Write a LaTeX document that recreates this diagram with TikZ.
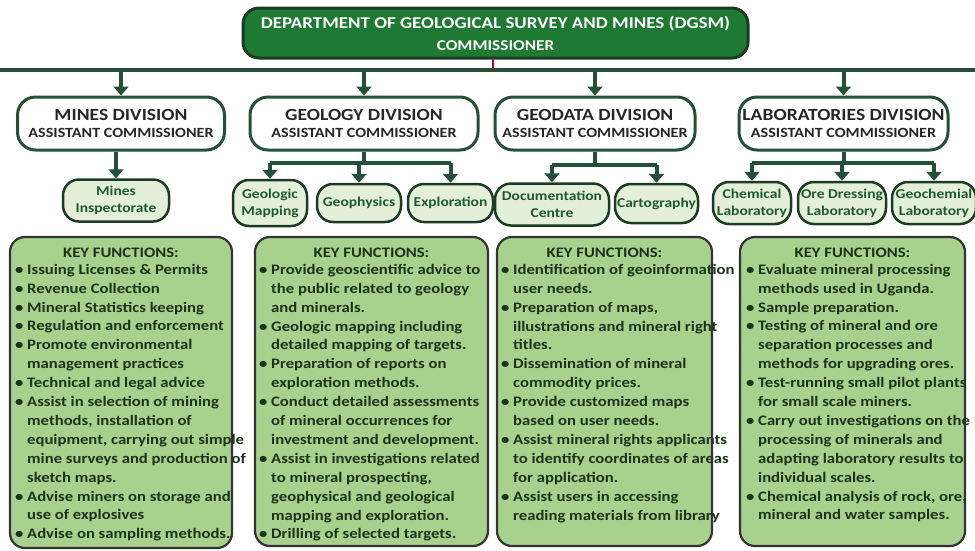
\documentclass[tikz,border=0pt]{standalone}
\usepackage{fontspec}
\setmainfont{Carlito}[FakeStretch=1.15]
\usetikzlibrary{arrows.meta}

\definecolor{dgreen}{HTML}{1E7A32}
\definecolor{edgec}{HTML}{1C3A24}
\definecolor{connc}{HTML}{24503A}
\definecolor{subfill}{HTML}{E3EFD8}
\definecolor{keyfill}{HTML}{A9D18E}
\definecolor{keytext}{HTML}{1A331B}
\definecolor{subtext}{HTML}{1F5A2E}
\definecolor{tickred}{HTML}{A3151B}

\newcommand\bitem{\textbullet\ }
\newcommand\bcont{\hphantom{\textbullet\ }}

\tikzset{
  topbox/.style={draw=edgec, line width=3, fill=dgreen, rounded corners=16,
    text=white, align=center, minimum width=505, minimum height=50, inner sep=0,
    font=\bfseries\fontsize{16.5}{22}\selectfont},
  divbox/.style={draw=connc, line width=3, fill=white, rounded corners=18,
    align=center, minimum height=53, inner sep=0, text=black!85},
  subbox/.style={draw=edgec, line width=2.5, fill=subfill, rounded corners=16,
    align=center, text=subtext, inner sep=1, minimum height=42,
    font=\bfseries\fontsize{13.5}{17}\selectfont},
  keybox/.style={draw=black!80, line width=2.2, fill=keyfill, rounded corners=15},
  keyhead/.style={text=keytext, inner sep=0, font=\bfseries\fontsize{14.5}{18.9}\selectfont},
  keytext/.style={text=keytext, inner sep=0, align=left, anchor=north west,
    font=\bfseries\fontsize{14.5}{18.9}\selectfont},
  conn/.style={draw=connc, line width=4},
  arr/.style={conn, -{Triangle[width=15pt,length=9pt]}},
}

\newcommand\divtext[1]{{\fontsize{17}{19}\selectfont #1}\\[5pt]{\fontsize{14}{16}\selectfont ASSISTANT COMMISSIONER}}

\begin{document}
\begin{tikzpicture}[x=1pt,y=-1pt]
\useasboundingbox (0,0) rectangle (975,550);

% main bus
\coordinate (busL) at (0,70);
\coordinate (busR) at (975,70);
\draw[conn] (busL) -- (busR);

% department head
\node[topbox] (dgsm) at (495.5,33) {DEPARTMENT OF GEOLOGICAL SURVEY AND MINES (DGSM)\\{\fontsize{15}{16}\selectfont COMMISSIONER}};
\draw[draw=tickred, line width=2.5] (493,58) -- (493,70);

% divisions
\node[divbox, minimum width=207, font=\bfseries] (mines) at (121,123.5) {\divtext{MINES DIVISION}};
\node[divbox, minimum width=228, font=\bfseries] (geol) at (364,123.5) {\divtext{GEOLOGY DIVISION}};
\node[divbox, minimum width=200, font=\bfseries] (gdat) at (595,123.5) {\divtext{GEODATA DIVISION}};
\node[divbox, minimum width=209, font=\bfseries] (labs) at (843.5,123.5) {\divtext{LABORATORIES DIVISION}};

\foreach \d in {mines,geol,gdat,labs}
  \draw[arr] (\d.north |- busL) -- (\d.north);

% sections
\node[subbox, minimum width=106] (insp) at (116,200.5) {Mines\\Inspectorate};
\node[subbox, minimum width=74, minimum height=46] (gmap) at (270,203) {Geologic\\Mapping};
\node[subbox, minimum width=84, minimum height=38] (gphy) at (359,203) {Geophysics};
\node[subbox, minimum width=85, minimum height=38] (expl) at (450.5,203) {Exploration};
\node[subbox, minimum width=114] (docc) at (552,204.5) {Documentation\\Centre};
\node[subbox, minimum width=83, minimum height=39] (cart) at (656.5,203.5) {Cartography};
\node[subbox, minimum width=78] (chem) at (752,203) {Chemical\\Laboratory};
\node[subbox, minimum width=88] (ored) at (842,203) {Ore Dressing\\Laboratory};
\node[subbox, minimum width=84] (gchm) at (934,203) {Geochemial\\Laboratory};

% division to section links
\draw[arr] (insp.north |- mines.south) -- (insp.north);

\coordinate (gj) at (364,163);
\draw[conn] (geol.south) -- (gj);
\draw[conn] (gmap.north |- gj) -- (expl.north |- gj);
\foreach \s in {gmap,gphy,expl} \draw[arr] (\s.north |- gj) -- (\s.north);

\coordinate (dj) at (595,165);
\draw[conn] (gdat.south) -- (dj);
\draw[conn] (docc.north |- dj) -- (cart.north |- dj);
\foreach \s in {docc,cart} \draw[arr] (\s.north |- dj) -- (\s.north);

\coordinate (lj) at (843.5,163);
\draw[conn] (labs.south) -- (lj);
\draw[conn] (chem.north |- lj) -- (gchm.north |- lj);
\foreach \s in {chem,ored,gchm} \draw[arr] (\s.north |- lj) -- (\s.north);

% key functions panels
\node[keybox, minimum width=222, minimum height=311] (k1) at (121,392.5) {};
\node[keybox, minimum width=233, minimum height=309] (k2) at (371.5,391.5) {};
\node[keybox, minimum width=215, minimum height=309] (k3) at (604.5,391.5) {};
\node[keybox, minimum width=225, minimum height=309] (k4) at (852.5,391.5) {};

\foreach \k in {k1,k2,k3,k4}
  \node[keyhead] (\k h) at ([yshift=-17]\k.north) {KEY FUNCTIONS:};

\node[keytext] (k1t) at ([xshift=6,yshift=-28]k1.north west) {%
\bitem Issuing Licenses \& Permits\\
\bitem Revenue Collection\\
\bitem Mineral Statistics keeping\\
\bitem Regulation and enforcement\\
\bitem Promote environmental\\
\bcont management practices\\
\bitem Technical and legal advice\\
\bitem Assist in selection of mining\\
\bcont methods, installation of\\
\bcont equipment, carrying out simple\\
\bcont mine surveys and production of\\
\bcont sketch maps.\\
\bitem Advise miners on storage and\\
\bcont use of explosives\\
\bitem Advise on sampling methods.};

\node[keytext] (k2t) at ([xshift=5,yshift=-28]k2.north west) {%
\bitem Provide geoscientific advice to\\
\bcont the public related to geology\\
\bcont and minerals.\\
\bitem Geologic mapping including\\
\bcont detailed mapping of targets.\\
\bitem Preparation of reports on\\
\bcont exploration methods.\\
\bitem Conduct detailed assessments\\
\bcont of mineral occurrences for\\
\bcont investment and development.\\
\bitem Assist in investigations related\\
\bcont to mineral prospecting,\\
\bcont geophysical and geological\\
\bcont mapping and exploration.\\
\bitem Drilling of selected targets.};

\node[keytext] (k3t) at ([xshift=5,yshift=-28]k3.north west) {%
\bitem Identification of geoinformation\\
\bcont user needs.\\
\bitem Preparation of maps,\\
\bcont illustrations and mineral right\\
\bcont titles.\\
\bitem Dissemination of mineral\\
\bcont commodity prices.\\
\bitem Provide customized maps\\
\bcont based on user needs.\\
\bitem Assist mineral rights applicants\\
\bcont to identify coordinates of areas\\
\bcont for application.\\
\bitem Assist users in accessing\\
\bcont reading materials from library};

\node[keytext] (k4t) at ([xshift=7,yshift=-28]k4.north west) {%
\bitem Evaluate mineral processing\\
\bcont methods used in Uganda.\\
\bitem Sample preparation.\\
\bitem Testing of mineral and ore\\
\bcont separation processes and\\
\bcont methods for upgrading ores.\\
\bitem Test-running small pilot plants\\
\bcont for small scale miners.\\
\bitem Carry out investigations on the\\
\bcont processing of minerals and\\
\bcont adapting laboratory results to\\
\bcont individual scales.\\
\bitem Chemical analysis of rock, ore,\\
\bcont mineral and water samples.};

\end{tikzpicture}
\end{document}
